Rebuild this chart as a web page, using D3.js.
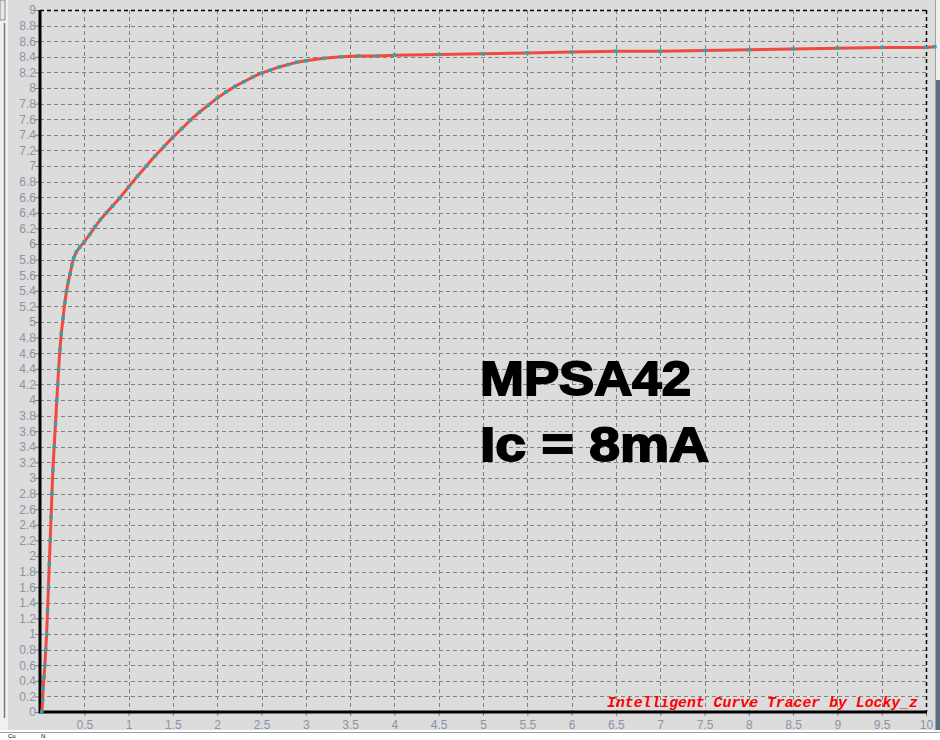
<!DOCTYPE html>
<html><head><meta charset="utf-8">
<script src="https://cdn.jsdelivr.net/npm/d3@7"></script>
<style>html,body{margin:0;padding:0;background:#fff;}svg{display:block;}</style>
</head><body>
<svg id="c" width="940" height="740"></svg>
<script>
// Data (x: volts, y: value)
const curveX = [0.02,0.03,0.035,0.045,0.055,0.065,0.075,0.085,0.095,0.105,0.115,0.125,0.135,0.145,0.16,0.175,0.19,0.2,0.21,0.225,0.24,0.26,0.28,0.30,0.32,0.34,0.36,0.38,0.41,0.45,0.5,0.56,0.62,0.68,0.75,0.82,0.9,1.0,1.1,1.2,1.3,1.4,1.5,1.6,1.7,1.8,1.9,2.0,2.1,2.2,2.3,2.4,2.5,2.6,2.7,2.8,2.9,3.0,3.2,3.4,3.6,3.8,4.0,4.5,5.0,5.5,6.0,6.5,7.0,7.5,8.0,8.5,9.0,9.5,10.0,10.1];
const curveY = [0,0.15,0.3,0.45,0.6,0.8,1.0,1.3,1.6,1.9,2.2,2.5,2.8,3.1,3.4,3.7,4.0,4.2,4.4,4.65,4.85,5.05,5.25,5.4,5.52,5.62,5.73,5.82,5.9,5.96,6.03,6.12,6.22,6.31,6.4,6.49,6.59,6.73,6.87,7.0,7.13,7.25,7.37,7.48,7.59,7.69,7.78,7.87,7.95,8.02,8.08,8.14,8.19,8.23,8.27,8.3,8.33,8.35,8.38,8.4,8.41,8.41,8.42,8.43,8.44,8.45,8.46,8.47,8.47,8.48,8.49,8.5,8.51,8.52,8.52,8.53];
const xTicks = [0.5,1,1.5,2,2.5,3,3.5,4,4.5,5,5.5,6,6.5,7,7.5,8,8.5,9,9.5,10];
const yTicks = d3.range(0, 46).map(i => +(i*0.2).toFixed(1));
const titleLines = ["MPSA42", "Ic = 8mA"];
const watermark = "Intelligent Curve Tracer by Locky_z";

const svg = d3.select("#c");
// window frame
svg.append("rect").attr("x",0).attr("y",0).attr("width",940).attr("height",740).attr("fill","#f0f0f0");
svg.append("rect").attr("x",8).attr("y",0).attr("width",927).attr("height",730).attr("fill","#dcdcdc");
svg.append("rect").attr("x",0).attr("y",0).attr("width",5).attr("height",20).attr("fill","#e8e8e8").attr("stroke","#8a8a8a");
svg.append("line").attr("x1",4.5).attr("x2",4.5).attr("y1",23).attr("y2",718).attr("stroke","#7a7a7a").attr("stroke-width",1.5);
svg.append("line").attr("x1",935.5).attr("x2",935.5).attr("y1",0).attr("y2",730).attr("stroke","#a0a0a0");
svg.append("rect").attr("x",936).attr("y",80).attr("width",4).attr("height",660).attr("fill","#5a6f86");
svg.append("rect").attr("x",0).attr("y",730).attr("width",940).attr("height",10).attr("fill","#ffffff");
svg.append("line").attr("x1",0).attr("x2",940).attr("y1",732.5).attr("y2",732.5).attr("stroke","#a0a0a0");
svg.append("text").attr("x",8).attr("y",738).attr("font-family","Liberation Sans, Arial").attr("font-size",6).attr("fill","#000").text("Cu");
svg.append("text").attr("x",41).attr("y",738).attr("font-family","Liberation Sans, Arial").attr("font-size",6).attr("fill","#000").text("N");

const L = 40, R = 926, T = 10, B = 712;
const x = d3.scaleLinear().domain([0,10]).range([L,R]);
const y = d3.scaleLinear().domain([0,9]).range([B,T]);

// grid
const g = svg.append("g");
g.selectAll("line.v").data(xTicks.filter(d=>d<10)).join("line")
  .attr("x1",d=>Math.round(x(d))+0.5).attr("x2",d=>Math.round(x(d))+0.5).attr("y1",T).attr("y2",B)
  .attr("stroke","#808080").attr("stroke-dasharray","4,3");
g.selectAll("line.h").data(yTicks.filter(d=>d>0 && d<9)).join("line")
  .attr("x1",L).attr("x2",R).attr("y1",d=>Math.round(y(d))+0.5).attr("y2",d=>Math.round(y(d))+0.5)
  .attr("stroke","#808080").attr("stroke-dasharray","4,3");
// dashed top/right borders
svg.append("line").attr("x1",L).attr("x2",R).attr("y1",T+0.5).attr("y2",T+0.5).attr("stroke","#000").attr("stroke-width",1.5).attr("stroke-dasharray","4,3");
svg.append("line").attr("x1",R+0.5).attr("x2",R+0.5).attr("y1",T).attr("y2",B).attr("stroke","#000").attr("stroke-width",1.5).attr("stroke-dasharray","4,3");

// axes
const yAxis = d3.axisLeft(y).tickValues(yTicks).tickSize(5).tickFormat(d=>d3.format("~g")(d));
const ya = svg.append("g").attr("transform",`translate(${L},0)`).call(yAxis);
ya.select(".domain").remove();
ya.selectAll(".tick line").attr("stroke","#808080");
ya.selectAll(".tick text").attr("fill","#8a94a6").attr("font-family","Liberation Sans, Arial").attr("font-size",12).attr("x",-4);

const xAxis = d3.axisBottom(x).tickValues(xTicks).tickSize(4).tickFormat(d=>d3.format("~g")(d));
const xa = svg.append("g").attr("transform",`translate(0,${B})`).call(xAxis);
xa.select(".domain").remove();
xa.selectAll(".tick line").attr("stroke","#808080");
xa.selectAll(".tick text").attr("fill","#8a94a6").attr("font-family","Liberation Sans, Arial").attr("font-size",12).attr("dy","0.9em").attr("y",6);

svg.append("line").attr("x1",L).attr("x2",L).attr("y1",T).attr("y2",B+1.5).attr("stroke","#000").attr("stroke-width",3);
svg.append("line").attr("x1",L).attr("x2",R+1).attr("y1",B).attr("y2",B).attr("stroke","#000").attr("stroke-width",3);

// curve
const pts = curveX.map((d,i)=>[d,curveY[i]]);
const line = d3.line().x(d=>x(d[0])).y(d=>y(d[1]));
svg.append("path").datum(pts).attr("d",line).attr("fill","none").attr("stroke","#f04a40").attr("stroke-width",3).attr("stroke-linejoin","round");
svg.selectAll("rect.m").data(pts).join("rect").attr("class","m")
  .attr("x",d=>x(d[0])-1.75).attr("y",d=>y(d[1])-1.75).attr("width",3.5).attr("height",3.5).attr("fill","#22aab0");

// titles
svg.selectAll("text.title").data(titleLines).join("text").attr("class","title")
  .attr("x",480).attr("y",(d,i)=>395+i*66)
  .attr("font-family","Liberation Sans, Arial").attr("font-weight","bold").attr("font-size",49)
  .attr("fill","#000").attr("stroke","#000").attr("stroke-width",1.8)
  .attr("textLength",(d,i)=>i===0?211:229).attr("lengthAdjust","spacingAndGlyphs")
  .text(d=>d);

svg.append("text").attr("x",607).attr("y",707)
  .attr("font-family","Liberation Mono, Courier New, monospace").attr("font-style","italic").attr("font-weight","bold")
  .attr("font-size",15).attr("fill","#ff0000").attr("textLength",311).attr("lengthAdjust","spacingAndGlyphs")
  .text(watermark);
</script>
</body></html>
